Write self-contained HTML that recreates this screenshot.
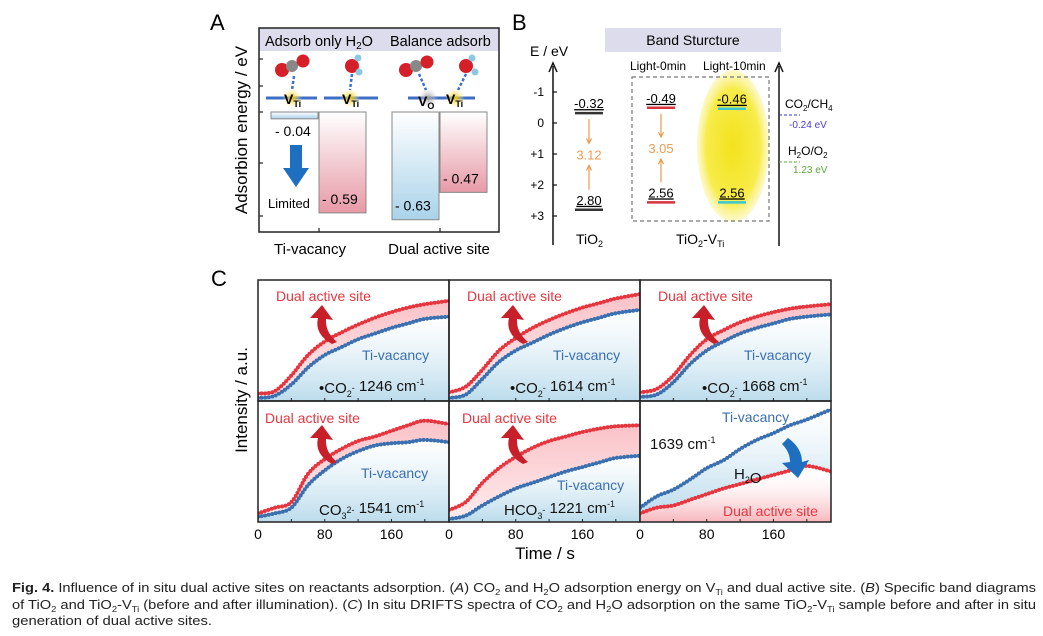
<!DOCTYPE html>
<html><head><meta charset="utf-8"><style>
html,body{margin:0;padding:0;background:#fff}
svg{display:block;font-family:"Liberation Sans",sans-serif}
</style></head><body>
<svg id="fig" width="1043" height="636" viewBox="0 0 1043 636" xmlns="http://www.w3.org/2000/svg">
<defs>
<linearGradient id="gBlueV" x1="0" y1="0" x2="0" y2="1"><stop offset="0" stop-color="#ffffff"/><stop offset="1" stop-color="#a9d3ea"/></linearGradient>
<linearGradient id="gRedV" x1="0" y1="0" x2="0" y2="1"><stop offset="0" stop-color="#ffffff"/><stop offset="1" stop-color="#e79aa6"/></linearGradient>
<linearGradient id="gBlueF" x1="0" y1="0" x2="0" y2="1"><stop offset="0" stop-color="#ffffff" stop-opacity="0.6"/><stop offset="1" stop-color="#bcdcec"/></linearGradient>
<linearGradient id="gPinkF" x1="0" y1="0" x2="0" y2="1"><stop offset="0" stop-color="#f9b8be"/><stop offset="1" stop-color="#fde8ea"/></linearGradient>
<linearGradient id="gPinkB" x1="0" y1="0" x2="0" y2="1"><stop offset="0" stop-color="#ffffff" stop-opacity="0"/><stop offset="1" stop-color="#f7b6bc"/></linearGradient>
<radialGradient id="gYellow" cx="0.5" cy="0.5" r="0.5"><stop offset="0" stop-color="#f3e21c"/><stop offset="0.75" stop-color="#f7ec4a"/><stop offset="1" stop-color="#fbf39a" stop-opacity="0.5"/></radialGradient>
<radialGradient id="gSite" cx="0.5" cy="0.5" r="0.5"><stop offset="0" stop-color="#f5c400"/><stop offset="1" stop-color="#fff3a0" stop-opacity="0"/></radialGradient>
<radialGradient id="gSiteO" cx="0.5" cy="0.5" r="0.5"><stop offset="0" stop-color="#999"/><stop offset="1" stop-color="#ddd" stop-opacity="0"/></radialGradient>
</defs>

<!-- ============ PANEL A ============ -->
<g>
<text x="210" y="30" font-size="22">A</text>
<rect x="259" y="28" width="240" height="23" fill="#dcdcec"/>
<text x="265" y="46" font-size="14.5">Adsorb only H<tspan font-size="10" dy="3">2</tspan><tspan dy="-3">O</tspan></text>
<text x="390" y="46" font-size="14.5">Balance adsorb</text>
<rect x="259" y="28" width="240" height="204" fill="none" stroke="#222" stroke-width="1.5"/>
<g stroke="#222" stroke-width="1.2">
<line x1="259" y1="59" x2="263" y2="59"/><line x1="259" y1="86" x2="263" y2="86"/><line x1="259" y1="112" x2="263" y2="112"/><line x1="259" y1="163" x2="263" y2="163"/><line x1="259" y1="216" x2="263" y2="216"/>
<line x1="319" y1="232" x2="319" y2="228"/><line x1="440" y1="232" x2="440" y2="228"/>
</g>
<text transform="translate(247,130) rotate(-90)" text-anchor="middle" font-size="17">Adsorbion energy / eV</text>
<text x="310" y="254" text-anchor="middle" font-size="15">Ti-vacancy</text>
<text x="439" y="254" text-anchor="middle" font-size="15">Dual active site</text>
<g stroke="#3f6fc4" stroke-width="3">
<line x1="266" y1="98" x2="317" y2="98"/><line x1="324" y1="98" x2="378" y2="98"/><line x1="408" y1="98" x2="475" y2="98"/>
</g>
<g>
<circle cx="292" cy="98" r="10" fill="url(#gSite)"/><circle cx="350" cy="98" r="10" fill="url(#gSite)"/><circle cx="428" cy="98" r="10" fill="url(#gSiteO)"/><circle cx="455" cy="98" r="10" fill="url(#gSite)"/>
<g stroke="#3f6fc4" stroke-width="2.5" stroke-dasharray="3,2"><line x1="294" y1="76" x2="292" y2="90"/><line x1="352" y1="74" x2="350" y2="90"/><line x1="419" y1="74" x2="426" y2="90"/><line x1="466" y1="74" x2="458" y2="90"/></g>
<circle cx="282" cy="70" r="7" fill="#d5202a"/><circle cx="292" cy="66" r="6" fill="#888"/><circle cx="303" cy="61" r="6.5" fill="#d5202a"/>
<circle cx="352" cy="66" r="7" fill="#d5202a"/><circle cx="359" cy="72" r="3.5" fill="#8cc9e0"/><circle cx="358" cy="58" r="3.5" fill="#8cc9e0"/>
<circle cx="406" cy="70" r="7" fill="#d5202a"/><circle cx="416" cy="66" r="6" fill="#888"/><circle cx="427" cy="62" r="6.5" fill="#d5202a"/>
<circle cx="466" cy="66" r="7" fill="#d5202a"/><circle cx="475" cy="72" r="3.5" fill="#8cc9e0"/><circle cx="472" cy="58" r="3.5" fill="#8cc9e0"/>
</g>
<g font-weight="bold" font-size="14">
<text x="284" y="104">V<tspan font-size="9" dy="3">Ti</tspan></text>
<text x="342" y="104">V<tspan font-size="9" dy="3">Ti</tspan></text>
<text x="418" y="106">V<tspan font-size="9" dy="3">O</tspan></text>
<text x="446" y="104">V<tspan font-size="9" dy="3">Ti</tspan></text>
</g>
<g id="barsA"></g>
<path d="M290 145 L302 145 L302 168 L309 168 L296 187 L283 168 L290 168 Z" fill="#1f6fc0"/>
<text x="268" y="208" font-size="13">Limited</text>
</g>

<!-- ============ PANEL B ============ -->
<g>
<text x="512" y="30" font-size="22">B</text>
<rect x="605" y="28" width="176" height="24" fill="#dcdcec"/>
<text x="693" y="45" text-anchor="middle" font-size="14">Band Sturcture</text>
<text x="530" y="56" font-size="14">E / eV</text>
<line x1="553" y1="245" x2="553" y2="66" stroke="#111" stroke-width="1.5"/>
<path d="M549 72 L553 63 L557 72" fill="none" stroke="#111" stroke-width="1.5"/>
<g id="ticksB"></g>
<ellipse cx="733" cy="146" rx="36" ry="76" fill="url(#gYellow)"/>
<rect x="632" y="77" width="137" height="144" fill="none" stroke="#777" stroke-width="1.2" stroke-dasharray="4,3"/>
<text x="630" y="70" font-size="12">Light-0min</text>
<text x="703" y="70" font-size="12">Light-10min</text>
<g id="bandsB"></g>
<text x="576" y="244" font-size="14">TiO<tspan font-size="9" dy="3">2</tspan></text>
<text x="676" y="244" font-size="14">TiO<tspan font-size="9" dy="3">2</tspan><tspan dy="-3">-V</tspan><tspan font-size="9" dy="3">Ti</tspan></text>
<line x1="779" y1="246" x2="779" y2="66" stroke="#111" stroke-width="1.5"/>
<path d="M775 72 L779 63 L783 72" fill="none" stroke="#111" stroke-width="1.5"/>
<text x="785" y="108" font-size="12">CO<tspan font-size="8" dy="3">2</tspan><tspan dy="-3">/CH</tspan><tspan font-size="8" dy="3">4</tspan></text>
<line x1="779" y1="115" x2="800" y2="115" stroke="#3333cc" stroke-dasharray="3,2"/>
<text x="789" y="128" font-size="10" fill="#4b3bd0">-0.24 eV</text>
<text x="788" y="155" font-size="12">H<tspan font-size="8" dy="3">2</tspan><tspan dy="-3">O/O</tspan><tspan font-size="8" dy="3">2</tspan></text>
<line x1="779" y1="162" x2="800" y2="162" stroke="#5aa83a" stroke-dasharray="3,2"/>
<text x="793" y="173" font-size="10" fill="#5aa83a">1.23 eV</text>
</g>

<!-- ============ PANEL C ============ -->
<g>
<text x="211" y="286" font-size="22">C</text>
<text transform="translate(247,400) rotate(-90)" text-anchor="middle" font-size="17">Intensity / a.u.</text>
<text x="545" y="559" text-anchor="middle" font-size="17">Time / s</text>
<g id="panelsC"></g>
</g>

<g font-size="12.5" fill="#222">
<text x="12" y="592" textLength="1024" lengthAdjust="spacingAndGlyphs"><tspan font-weight="bold">Fig. 4.</tspan>   Influence of in situ dual active sites on reactants adsorption. (<tspan font-style="italic">A</tspan>) CO<tspan font-size="8" dy="3">2</tspan><tspan dy="-3"> and H</tspan><tspan font-size="8" dy="3">2</tspan><tspan dy="-3">O adsorption energy on V</tspan><tspan font-size="8" dy="3">Ti</tspan><tspan dy="-3"> and dual active site. (</tspan><tspan font-style="italic">B</tspan>) Specific band diagrams</text>
<text x="12" y="609" textLength="1024" lengthAdjust="spacingAndGlyphs">of TiO<tspan font-size="8" dy="3">2</tspan><tspan dy="-3"> and TiO</tspan><tspan font-size="8" dy="3">2</tspan><tspan dy="-3">-V</tspan><tspan font-size="8" dy="3">Ti</tspan><tspan dy="-3"> (before and after illumination). (</tspan><tspan font-style="italic">C</tspan>) In situ DRIFTS spectra of CO<tspan font-size="8" dy="3">2</tspan><tspan dy="-3"> and H</tspan><tspan font-size="8" dy="3">2</tspan><tspan dy="-3">O adsorption on the same TiO</tspan><tspan font-size="8" dy="3">2</tspan><tspan dy="-3">-V</tspan><tspan font-size="8" dy="3">Ti</tspan><tspan dy="-3"> sample before and after in situ</tspan></text>
<text x="12" y="625" textLength="200" lengthAdjust="spacingAndGlyphs">generation of dual active sites.</text>
</g>
</svg>

<script>
// ---------- Panel A data ----------
const barLabelsA = ["Ti-vacancy CO2", "Ti-vacancy H2O", "Dual CO2", "Dual H2O"];
const barValuesA = [-0.04, -0.59, -0.63, -0.47];
const barTextA = ["- 0.04", "- 0.59", "- 0.63", "- 0.47"];
const barKindA = ["blue", "red", "blue", "red"];

// ---------- Panel B data ----------
const tickValuesB = [-1, 0, 1, 2, 3];
const tickLabelsB = ["-1", "0", "+1", "+2", "+3"];
const cbValuesB = [-0.32, -0.49, -0.46];
const vbValuesB = [2.80, 2.56, 2.56];
const gapLabelsB = ["3.12", "3.05", ""];
const bandNamesB = ["tio2", "light-0min", "light-10min"];

// ---------- Panel C data ----------
const timesC = [0, 20, 40, 60, 80, 100, 120, 140, 160, 180, 200, 229];
const xTickValuesC = [0, 80, 160];
const dualC = [
  [0.04,0.06,0.20,0.38,0.50,0.58,0.65,0.71,0.76,0.80,0.83,0.86],
  [0.05,0.10,0.25,0.42,0.53,0.62,0.69,0.75,0.80,0.84,0.88,0.92],
  [0.05,0.08,0.20,0.38,0.52,0.60,0.67,0.72,0.76,0.79,0.81,0.83],
  [0.05,0.10,0.15,0.40,0.53,0.62,0.69,0.73,0.78,0.83,0.87,0.84],
  [0.08,0.15,0.32,0.45,0.55,0.63,0.69,0.73,0.77,0.80,0.82,0.83],
  [0.05,0.10,0.12,0.17,0.22,0.27,0.31,0.35,0.39,0.43,0.47,0.42]
];
const vacC = [
  [0.00,0.02,0.12,0.27,0.38,0.45,0.52,0.57,0.62,0.66,0.70,0.72],
  [0.00,0.03,0.17,0.32,0.42,0.49,0.56,0.62,0.67,0.71,0.75,0.78],
  [0.01,0.03,0.14,0.30,0.42,0.50,0.57,0.62,0.66,0.70,0.72,0.74],
  [0.02,0.05,0.10,0.30,0.43,0.53,0.60,0.65,0.67,0.68,0.70,0.68],
  [0.00,0.03,0.12,0.20,0.27,0.32,0.37,0.42,0.46,0.50,0.54,0.56],
  [0.10,0.20,0.26,0.35,0.45,0.52,0.62,0.70,0.76,0.83,0.88,0.97]
];
const speciesC = ["•CO2- 1246", "•CO2- 1614", "•CO2- 1668", "CO32- 1541", "HCO3- 1221", "H2O 1639"];

const NS = "http://www.w3.org/2000/svg";
function mk(tag, attrs, parent) {
  const e = document.createElementNS(NS, tag);
  for (const k in attrs) e.setAttribute(k, attrs[k]);
  parent.appendChild(e);
  return e;
}

// ---------- Panel A ----------
const yA = v => 112 + (-v) * 171;
const barX = [271, 319, 392, 440];
const gA = document.getElementById("barsA");
barValuesA.forEach((v, i) => {
  const r = mk("rect", {x: barX[i], y: 112, width: 47, height: yA(v) - 112,
    fill: barKindA[i] === "blue" ? "url(#gBlueV)" : "url(#gRedV)", stroke: "#888", "stroke-width": 1}, gA);
  
  
  let tx, ty;
  if (i === 0) { tx = barX[i] + 4; ty = yA(v) + 17; }
  else { tx = barX[i] + 3; ty = yA(v) - 9; }
  const t = mk("text", {x: tx, y: ty, "font-size": 14}, gA);
  t.textContent = barTextA[i];
  
  
});

// ---------- Panel B ----------
const yB = v => 123 + v * 31;
const gT = document.getElementById("ticksB");
tickValuesB.forEach((v, i) => {
  const l = mk("line", {x1: 553, x2: 557, y1: yB(v), y2: yB(v), stroke: "#111", "stroke-width": 1.2}, gT);
  
  
  const t = mk("text", {x: 544, y: yB(v) + 4, "font-size": 12, "text-anchor": "end"}, gT);
  t.textContent = tickLabelsB[i];
  
  
});
const gB = document.getElementById("bandsB");
const bandX = [575, 647, 718];
const bandCol = ["#333", "#d8323c", "#3cc6d4"];
cbValuesB.forEach((cb, i) => {
  const x0 = bandX[i], x1 = x0 + 28, cx = x0 + 14;
  const vb = vbValuesB[i];
  [cb, vb].forEach((v, j) => {
    const l = mk("line", {x1: x0, x2: x1, y1: yB(v), y2: yB(v), stroke: bandCol[i], "stroke-width": 2.5}, gB);
    
    
    const t = mk("text", {x: cx, y: yB(v) - 5, "font-size": 13, "text-anchor": "middle", "text-decoration": "underline"}, gB);
    t.textContent = v.toFixed(2);
    
    
  });
  if (gapLabelsB[i]) {
    const ya = yB(cb) + 6, yb = yB(vb) - 20, ym = (ya + yb) / 2;
    const a1 = mk("path", {d: `M${cx} ${ya} L${cx} ${ym - 12} M${cx-2.5} ${ym-16} L${cx} ${ym-11} L${cx+2.5} ${ym-16}`, stroke: "#ee9a50", fill: "none", "stroke-width": 1.2}, gB);
    
    
    const a2 = mk("path", {d: `M${cx} ${yb} L${cx} ${ym + 12} M${cx-2.5} ${ym+16} L${cx} ${ym+11} L${cx+2.5} ${ym+16}`, stroke: "#ee9a50", fill: "none", "stroke-width": 1.2}, gB);
    
    
    const t = mk("text", {x: cx, y: ym + 5, "font-size": 13, fill: "#ee9a50", "text-anchor": "middle"}, gB);
    t.textContent = gapLabelsB[i];
    
    
  }
});

// ---------- Panel C ----------
const colX = [258, 449, 640], rowY = [280, 401];
const PW = 191, PH = 121, TMAX = 229;
const gC = document.getElementById("panelsC");
function crPath(pts) {
  let d = `M${pts[0][0]} ${pts[0][1]}`;
  for (let i = 0; i < pts.length - 1; i++) {
    const p0 = pts[i - 1] || pts[i], p1 = pts[i], p2 = pts[i + 1], p3 = pts[i + 2] || p2;
    const c1 = [p1[0] + (p2[0] - p0[0]) / 6, p1[1] + (p2[1] - p0[1]) / 6];
    const c2 = [p2[0] - (p3[0] - p1[0]) / 6, p2[1] - (p3[1] - p1[1]) / 6];
    d += ` C${c1[0]} ${c1[1]} ${c2[0]} ${c2[1]} ${p2[0]} ${p2[1]}`;
  }
  return d;
}
function revPath(pts) { return crPath(pts.slice().reverse()).replace(/^M[^C]*/, ""); }

for (let p = 0; p < 6; p++) {
  const ox = colX[p % 3], oy = rowY[Math.floor(p / 3)];
  const xs = t => ox + t / TMAX * PW;
  const ys = v => oy + PH - 3 - v * (PH - 8);
  const g = mk("g", {}, gC);
  
  
  const redPts = timesC.map((t, i) => [xs(t), ys(dualC[p][i])]);
  const bluePts = timesC.map((t, i) => [xs(t), ys(vacC[p][i])]);
  const bottom = oy + PH;
  const clipId = "clip" + p;
  const cp = mk("clipPath", {id: clipId}, g);
  mk("rect", {x: ox, y: oy, width: PW, height: PH}, cp);
  const inner = mk("g", {"clip-path": `url(#${clipId})`}, g);
  if (p < 5) {
    const fb = mk("path", {d: crPath(bluePts) + ` L${ox+PW} ${bottom} L${ox} ${bottom} Z`, fill: "url(#gBlueF)"}, inner);
    
    
    const fr = mk("path", {d: crPath(redPts) + ` L${bluePts[bluePts.length-1][0]} ${bluePts[bluePts.length-1][1]}` + revPath(bluePts) + " Z", fill: "url(#gPinkF)", opacity: 0.85}, inner);
    
    
  } else {
    const fb = mk("path", {d: crPath(bluePts) + ` L${redPts[redPts.length-1][0]} ${redPts[redPts.length-1][1]}` + revPath(redPts) + " Z", fill: "url(#gBlueF)"}, inner);
    
    
    const fr = mk("path", {d: crPath(redPts) + ` L${ox+PW} ${bottom} L${ox} ${bottom} Z`, fill: "url(#gPinkB)"}, inner);
    
    
  }
  [[bluePts, "#3a6fb0", "ti-vacancy-line"], [redPts, "#e5363f", "dual-active-site-line"]].forEach(([pts, col, nm]) => {
    const l = mk("path", {d: crPath(pts), fill: "none", stroke: col, "stroke-width": 2}, inner);
    
    
    const m = mk("path", {d: crPath(pts), fill: "none", stroke: col, "stroke-width": 4, "stroke-linecap": "round", "stroke-dasharray": "0 3.6"}, inner);
    
    
  });
  const fr = mk("rect", {x: ox, y: oy, width: PW, height: PH, fill: "none", stroke: "#222", "stroke-width": 1.5}, g);
  
  
  for (let t = 0; t <= 220; t += 40) {
    const tk = mk("line", {x1: xs(t), x2: xs(t), y1: oy + PH, y2: oy + PH - 3, stroke: "#222"}, g);
    
    
  }
  if (p >= 3) {
    xTickValuesC.forEach(t => {
      const tl = mk("text", {x: xs(t), y: 539, "font-size": 14, "text-anchor": "middle"}, g);
      tl.textContent = String(t);
      
      
    });
  }
}

function label(x, y, html, col, size, name) {
  const t = mk("text", {x: x, y: y, fill: col, "font-size": size}, gC);
  t.innerHTML = html;
  
  
}
const RED = "#e5363f", BLUE = "#3a6fb0";
const sub = s => `<tspan font-size="9" dy="4">${s}</tspan><tspan dy="-4"></tspan>`;
const sup = s => `<tspan font-size="9" dy="-6">${s}</tspan><tspan dy="6"></tspan>`;
[0, 1, 2].forEach(c => {
  const ox = colX[c];
  label(ox + 18, 301, "Dual active site", RED, 14, "dual-active-site-label");
  label(ox + 104, 360, "Ti-vacancy", BLUE, 14, "ti-vacancy-label");
});
label(319, 393, "•CO" + sub("2") + sup("-") + "  1246 cm" + sup("-1"), "#111", 15, "species-label");
label(510, 393, "•CO" + sub("2") + sup("-") + "  1614 cm" + sup("-1"), "#111", 15, "species-label");
label(702, 393, "•CO" + sub("2") + sup("-") + "  1668 cm" + sup("-1"), "#111", 15, "species-label");
label(265, 423, "Dual active site", RED, 14, "dual-active-site-label");
label(361, 478, "Ti-vacancy", BLUE, 14, "ti-vacancy-label");
label(319, 515, "CO" + sub("3") + sup("2-") + "  1541 cm" + sup("-1"), "#111", 15, "species-label");
label(462, 423, "Dual active site", RED, 14, "dual-active-site-label");
label(557, 490, "Ti-vacancy", BLUE, 14, "ti-vacancy-label");
label(504, 515, "HCO" + sub("3") + sup("-") + "  1221 cm" + sup("-1"), "#111", 15, "species-label");
label(722, 422, "Ti-vacancy", BLUE, 14, "ti-vacancy-label");
label(650, 449, "1639 cm" + sup("-1"), "#111", 15, "wavenumber-label");
label(734, 479, "H" + sub("2") + "O", "#111", 15, "h2o-label");
label(723, 516, "Dual active site", RED, 14, "dual-active-site-label");

[[322, 344], [513, 344], [704, 344], [322, 464], [513, 464]].forEach(([x, y]) => {
  const a = mk("path", {d: `M${x+10} ${y} Q${x-8} ${y-10} ${x-4} ${y-26} L${x-12} ${y-26} L${x} ${y-39} L${x+11} ${y-24} L${x+4} ${y-25} Q${x+3} ${y-12} ${x+15} ${y-2} Z`, fill: "#c8202a"}, gC);
  
  
});
const ba = mk("path", {d: "M788 438 Q802 448 802 462 L809 460 L798 478 L782 463 L790 462 Q790 452 782 444 Z", fill: "#1f6fc0"}, gC);


</script>
</body></html>
